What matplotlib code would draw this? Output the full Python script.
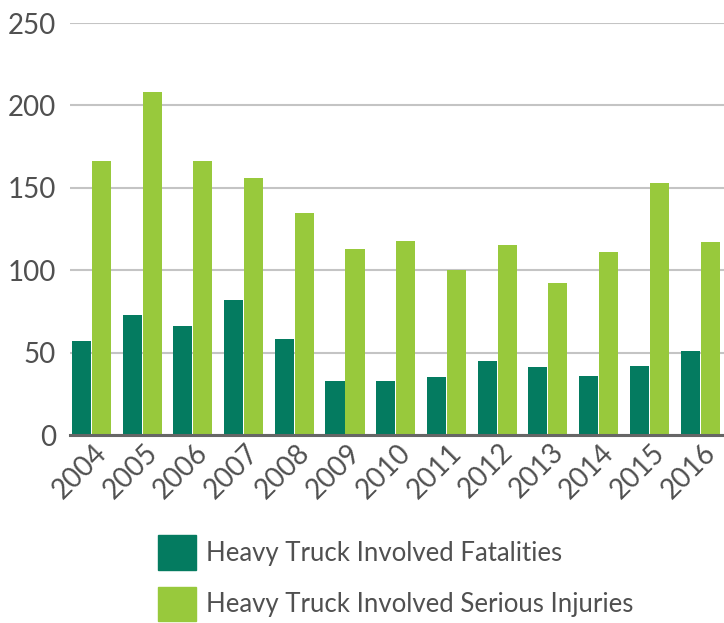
import matplotlib
matplotlib.use("Agg")
from matplotlib import pyplot as plt
from matplotlib.patches import Patch
import matplotlib.transforms as mtransforms
import numpy as np

years = ["2004", "2005", "2006", "2007", "2008", "2009", "2010",
         "2011", "2012", "2013", "2014", "2015", "2016"]
fatalities = [57, 73, 66, 82, 58, 33, 33, 35, 45, 41, 36, 42, 51]
injuries = [166, 208, 166, 156, 135, 113, 118, 100, 115, 92, 111, 153, 117]
y_ticks = [0, 50, 100, 150, 200, 250]

dark_green = "#047B60"
light_green = "#98C93C"
text_col = "#505050"

plt.rcParams['font.family'] = ['Lato', 'DejaVu Sans']

fig = plt.figure(figsize=(7.24, 6.23), dpi=100)
ax = fig.add_axes([70 / 724, 1 - 435 / 623, 654 / 724, 412 / 623])

x = np.arange(len(years))
w = 0.375
ax.bar(x - 0.197, fatalities, w, color=dark_green, zorder=3)
ax.bar(x + 0.197, injuries, w, color=light_green, zorder=3)

ax.set_xlim(-0.42, 12.47)
ax.set_ylim(0, 250)
ax.set_yticks(y_ticks)
ax.yaxis.grid(True, color="#c4c4c4", linewidth=1.5, zorder=0)
ax.set_axisbelow(True)

for s in ["top", "right", "left"]:
    ax.spines[s].set_visible(False)
ax.spines["bottom"].set_color("#666666")
ax.spines["bottom"].set_linewidth(2.2)
ax.spines["bottom"].set_zorder(4)

ax.tick_params(axis="y", length=0, pad=10, labelsize=20, labelcolor=text_col)
ax.tick_params(axis="x", length=0, pad=3, labelsize=20, labelcolor=text_col)
ax.set_xticks(x)
ax.set_xticklabels(years, rotation=45, ha="right", va="top",
                   rotation_mode="anchor")
offset = mtransforms.ScaledTranslation(2 / 100, 0, fig.dpi_scale_trans)
for lab in ax.get_xticklabels():
    lab.set_transform(lab.get_transform() + offset)

handles = [Patch(color=dark_green, label="Heavy Truck Involved Fatalities"),
           Patch(color=light_green, label="Heavy Truck Involved Serious Injuries")]
fig.legend(handles=handles, loc="upper left",
           bbox_to_anchor=(135 / 724, 1 - 512 / 623),
           frameon=False, fontsize=18.5, labelcolor=text_col,
           handlelength=1.46, handleheight=1.70, handletextpad=0.41,
           labelspacing=0.66)

fig.savefig("out.png", dpi=100)
